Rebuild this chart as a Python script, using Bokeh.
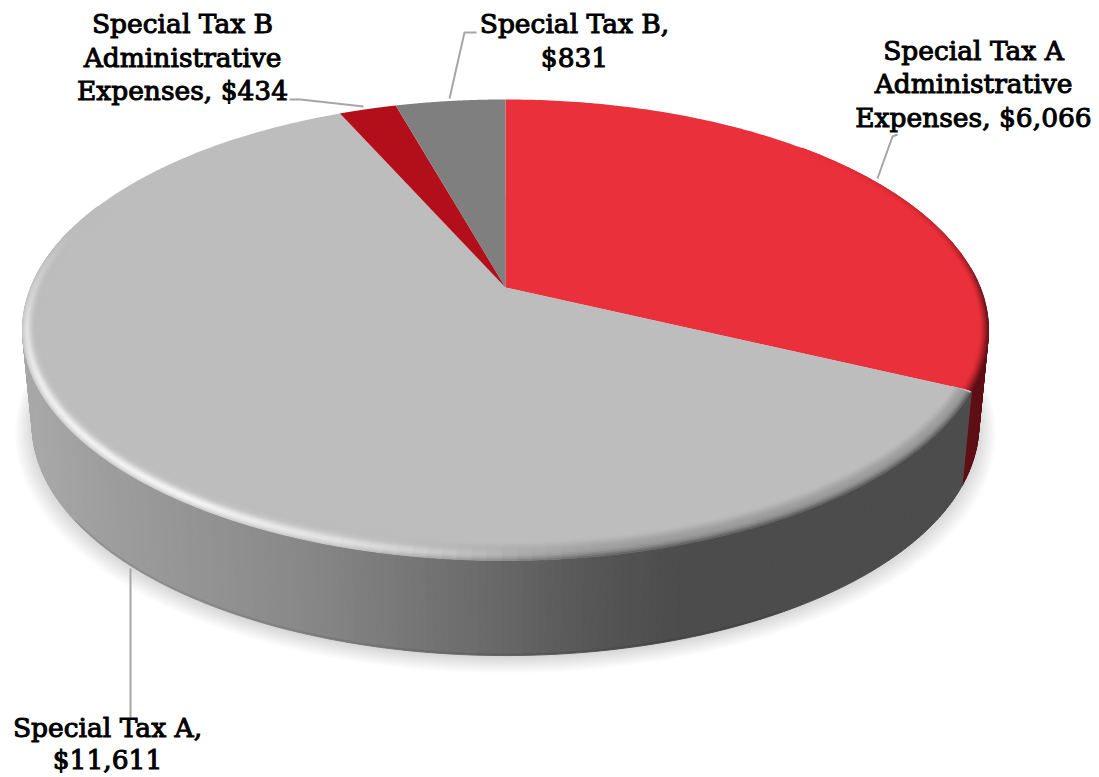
import numpy as np
from bokeh.plotting import figure
from bokeh.models import Range1d, ColumnDataSource
from bokeh.core.properties import value
from bokeh.embed import file_html
from bokeh.resources import INLINE

# ---- data ----
categories = ["Special Tax A Administrative Expenses", "Special Tax A",
              "Special Tax B Administrative Expenses", "Special Tax B"]
amounts = [6066, 11611, 434, 831]

# ---- styles ----
face_colors = ["#ea303b", "#bdbdbd", "#b30f1a", "#7f7f7f"]
RED_SIDE = (94, 15, 21)
FONT = "DejaVu Serif"
FONT_SIZE = "26.5px"

# ---- pie geometry (perspective view of a disc) ----
CX, CY = 505.0, 287.0
A, B, K = 474.7, 222.7, 0.1844
BOTTOM_SX, BOTTOM_SY, BOTTOM_DROP = 0.98, 1.0, 95.0

total = sum(amounts)
edges = np.degrees(np.cumsum([0] + amounts) / total * 2 * np.pi)


def proj(deg, rx=1.0, ry=1.0):
    t = np.radians(deg)
    u, v = np.sin(t) * rx, np.cos(t) * ry
    w = 1 + K * v
    return CX + A * u / w, CY - B * v / w


def proj_bottom(deg):
    x, y = proj(deg)
    return CX + (x - CX) * BOTTOM_SX, CY + (y - CY) * BOTTOM_SY + BOTTOM_DROP


def hexc(c):
    return "#%02x%02x%02x" % tuple(int(round(np.clip(q, 0, 255))) for q in c)


def mix(a, b, f):
    return tuple(np.array(a, float) + (np.array(b, float) - np.array(a, float)) * f)


def side_grey(x):
    g = np.interp(x, [30, 100, 300, 400, 505, 600, 680], [168, 158, 136, 120, 102, 85, 76])
    return (g, g, g)


p = figure(width=1099, height=777, output_backend="svg", toolbar_location=None,
           x_range=Range1d(0, 1099), y_range=Range1d(777, 0), min_border=0,
           outline_line_color=None, background_fill_color="white", border_fill_color="white")
p.axis.visible = False
p.grid.visible = False

# ---- soft drop shadow ----
ang = np.linspace(0, 360, 181)
bx, by = proj_bottom(ang)
sx, sy = [], []
for i in range(10):
    f = (i + 1) / 10
    e = 0.04 * (1 - f)
    sx.append(CX + (bx - CX) * (1 + e))
    sy.append(425 + (by - 425) * (1 + e) + 8 * (1 - f) + 2)
p.patches(sx, sy, fill_color="black", fill_alpha=0.014, line_color=None)

# ---- collected opaque patches ----
xs, ys, cols = [], [], []


def add(x, y, c):
    xs.append(list(x))
    ys.append(list(y))
    cols.append(hexc(c))


# side wall
red_end, grey_end = edges[1], edges[2]
step = 0.75
for a0 in np.arange(85, red_end, step):
    a1 = min(a0 + step, red_end)
    tx, ty = proj(np.array([a0, a1]))
    qx, qy = proj_bottom(np.array([a1, a0]))
    add(np.r_[tx, qx], np.r_[ty, qy], RED_SIDE)
for a0 in np.arange(red_end, 285, step):
    a1 = a0 + step
    tx, ty = proj(np.array([a0, a1]))
    qx, qy = proj_bottom(np.array([a1, a0]))
    add(np.r_[tx, qx], np.r_[ty, qy], side_grey(tx.mean()))

src = ColumnDataSource(dict(xs=xs, ys=ys, c=cols))
p.patches("xs", "ys", source=src, fill_color="c", line_color="c", line_width=1)

# darker thin lower lip of the wall
lip = np.arange(150, 238, 2.0)
lx, ly = proj_bottom(lip)
p.line(lx, ly - 1, line_color="black", line_alpha=0.08, line_width=2)

# top faces
fx, fy, fc = [], [], []
for i, col in enumerate(face_colors):
    arc = np.linspace(edges[i], edges[i + 1], 181)
    ax, ay = proj(arc)
    fx.append(np.r_[CX, ax].tolist())
    fy.append(np.r_[CY, ay].tolist())
    fc.append(col)
p.patches(fx, fy, fill_color=fc, line_color=None)

# ---- rim bevel ----
xs, ys, cols = [], [], []
face_g = (189, 189, 189)
face_r = (234, 48, 59)
layers = 12
for k in range(layers):
    t0, t1 = k / layers, (k + 1) / layers
    tm = (t0 + t1) / 2
    r0x, r0y = 1 - 0.032 * t0, 1 - 0.06 * t0
    r1x, r1y = 1 - 0.032 * t1, 1 - 0.06 * t1
    prof_dark = (1 - tm) ** 1.4
    prof_high = np.exp(-((tm - 0.3) / 0.27) ** 2)
    for a0 in np.arange(red_end + 0.6, 292, 1.5):
        a1 = a0 + 1.5
        am = (a0 + a1) / 2
        D = np.interp(am, [115, 172, 186, 198], [1, 1, 0.55, 0.0])
        H = np.interp(am, [178, 190, 215, 245, 262, 285], [0.2, 0.45, 0.85, 0.75, 0.5, 0.0])
        mx, _ = proj(am)
        c = mix(face_g, side_grey(mx), D * prof_dark)
        c = mix(c, (255, 255, 255), H * prof_high)
        ox, oy = proj(np.array([a0, a1]), r0x, r0y)
        ix, iy = proj(np.array([a1, a0]), r1x, r1y)
        add(np.r_[ox, ix], np.r_[oy, iy], c)
    for a0 in np.arange(45, red_end, 3.0):
        a1 = min(a0 + 3.0, red_end)
        am = (a0 + a1) / 2
        D = np.interp(am, [45, 75, 95, 116], [0, 0.35, 1, 1])
        c = mix(face_r, RED_SIDE, D * prof_dark)
        rx0, ry0 = 1 - 0.018 * t0, 1 - 0.032 * t0
        rx1, ry1 = 1 - 0.018 * t1, 1 - 0.032 * t1
        ox, oy = proj(np.array([a0, a1]), rx0, ry0)
        ix, iy = proj(np.array([a1, a0]), rx1, ry1)
        add(np.r_[ox, ix], np.r_[oy, iy], c)
src2 = ColumnDataSource(dict(xs=xs, ys=ys, c=cols))
p.patches("xs", "ys", source=src2, fill_color="c", line_color="c", line_width=0.8)

# ---- leader lines ----
leader_x = [[877, 892, 897], [449, 464, 476], [363, 300, 289], [130, 130]]
leader_y = [[178, 136, 134], [98, 32, 32], [106, 99, 99], [568, 717]]
p.multi_line(leader_x, leader_y, line_color="#a6a6a6", line_width=2)

# ---- labels ----
lab = [f"${v:,}" for v in amounts]
label_lines = [
    ("Special Tax A", 973, 50), ("Administrative", 973, 83), (f"Expenses, {lab[0]}", 973, 117),
    ("Special Tax A,", 107, 727), (lab[1], 107, 759),
    ("Special Tax B", 182, 23), ("Administrative", 182, 57), (f"Expenses, {lab[2]}", 182, 90),
    ("Special Tax B,", 574, 23), (lab[3], 574, 57),
]
p.text([l[1] for l in label_lines], [l[2] for l in label_lines], text=[l[0] for l in label_lines],
       text_font=value(FONT), text_font_size=FONT_SIZE, text_color="#000000",
       text_outline_color="#000000",
       text_align="center", text_baseline="middle")

open("out.html", "w").write(file_html(p, INLINE))
